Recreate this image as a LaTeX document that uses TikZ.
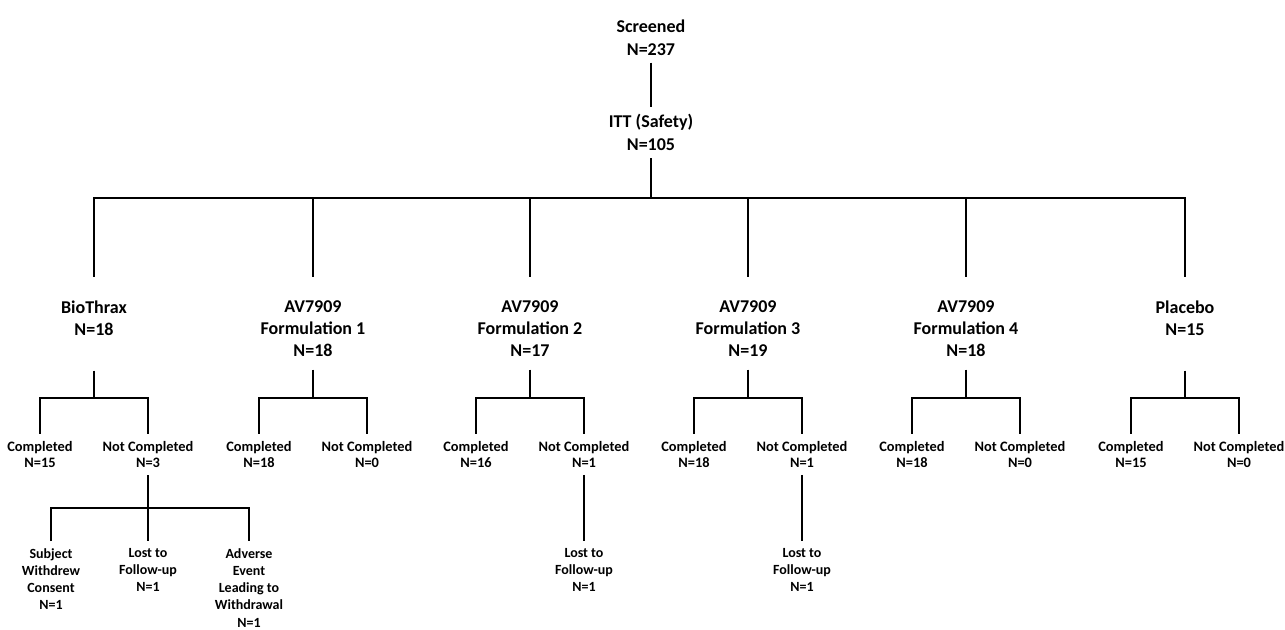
\documentclass[tikz,border=0pt]{standalone}
\usepackage{fontspec}
\setmainfont{Carlito}

\begin{document}
\begin{tikzpicture}[x=0.5pt,y=-0.5pt,line width=1.4pt,
      title/.style={align=center,inner sep=3pt,anchor=north,
                    font=\bfseries\fontsize{9}{11.5}\selectfont},
      arm/.style={title,font=\bfseries\fontsize{9}{11}\selectfont},
      result/.style={align=center,inner sep=3pt,anchor=north,
                     font=\bfseries\fontsize{7.2}{8}\selectfont},
      reason/.style={result,font=\bfseries\fontsize{7}{8.6}\selectfont}]
    \useasboundingbox (0,0) rectangle (1285,630);
    \node[title] (screened) at (651,12) {Screened\\N=237};
    \node[title] (itt) at (651,107) {ITT (Safety)\\N=105};
    \draw (screened.south) -- (itt.north);
    \coordinate (split) at (651,198);
    \draw (itt.south) -- (split);

    \foreach \g/\x/\grp/\gap/\nc/\nn in {bt/94/{BioThrax\\N=18}/14pt/15/3,
        f1/313/{AV7909\\Formulation 1\\N=18}/3pt/18/0,
        f2/530/{AV7909\\Formulation 2\\N=17}/3pt/16/1,
        f3/748/{AV7909\\Formulation 3\\N=19}/3pt/18/1,
        f4/966/{AV7909\\Formulation 4\\N=18}/3pt/18/0,
        pl/1185/{Placebo\\N=15}/14pt/15/0}{%
      \node[arm] (\g) at (\x,293) {\grp};
      \draw[shorten >=8pt] (split) -| (\g.north);
      \coordinate (j\g) at (\x,398);
      \draw[shorten <=\gap] (\g.south) -- (j\g);
      \node[result] (c\g) at ({\x-54},434) {Completed\\N=\nc};
      \node[result] (n\g) at ({\x+54},434) {Not Completed\\N=\nn};
      \draw (c\g.north) |- (j\g) -| (n\g.north);
    }

    % lost to follow-up
    \coordinate (row) at (0,541);
    \foreach \g in {f2,f3}{%
      \node[reason] (lost\g) at (n\g.north |- row) {Lost to\\Follow-up\\N=1};
      \draw (n\g.south) -- (lost\g.north);
    }

    % BioThrax reasons
    \coordinate (jnbt) at (148,508);
    \draw (nbt.south) -- (jnbt);
    \node[reason] (consent) at (51,541) {Subject\\Withdrew\\Consent\\N=1};
    \node[reason] (lostbt) at (148,541) {Lost to\\Follow-up\\N=1};
    \node[reason] (adverse) at (249,541)
      {Adverse\\Event\\Leading to\\Withdrawal\\N=1};
    \draw (consent.north) |- (jnbt) -| (adverse.north);
    \draw (jnbt) -- (lostbt.north);
  \end{tikzpicture}
\end{document}
